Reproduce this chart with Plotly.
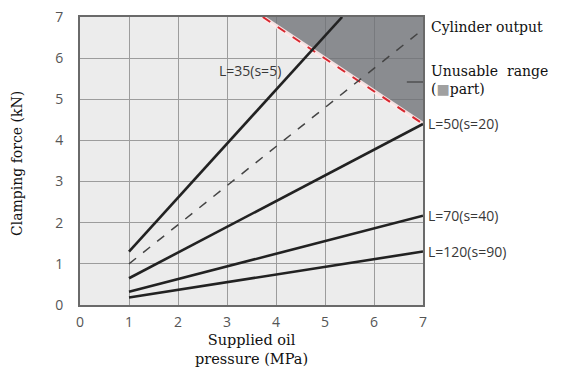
import plotly.graph_objects as go

# Data
pressure = [1, 7]                      # MPa
l35_x = [1, 5.35]
l35_y = [1.3, 7.0]
cyl_y = [1.0, 6.7]                     # cylinder output (dashed)
l50_y = [0.65, 4.4]
l70_y = [0.32, 2.17]
l120_y = [0.18, 1.30]
limit_x = [3.73, 7.0]                  # boundary of unusable range
limit_y = [7.0, 4.4]
region_x = [3.73, 7.0, 7.0, 3.73]
region_y = [7.0, 7.0, 4.4, 7.0]

x_ticks = [0, 1, 2, 3, 4, 5, 6, 7]
y_ticks = [0, 1, 2, 3, 4, 5, 6, 7]

fig = go.Figure()

# Unusable range shading
fig.add_trace(go.Scatter(x=region_x, y=region_y, fill="toself", mode="none",
                         fillcolor="rgba(110,113,118,0.78)", hoverinfo="skip"))
# Boundary line (light halo + red dashes)
fig.add_trace(go.Scatter(x=limit_x, y=limit_y, mode="lines",
                         line=dict(color="rgba(255,235,235,0.9)", width=4)))
fig.add_trace(go.Scatter(x=limit_x, y=limit_y, mode="lines",
                         line=dict(color="#d8262e", width=2, dash="dash")))
# Cylinder output dashed
fig.add_trace(go.Scatter(x=pressure, y=cyl_y, mode="lines",
                         line=dict(color="#444444", width=1.5, dash="dash")))
# Clamping force lines
for ys, xs in [(l35_y, l35_x), (l50_y, pressure), (l70_y, pressure), (l120_y, pressure)]:
    fig.add_trace(go.Scatter(x=xs, y=ys, mode="lines",
                             line=dict(color="#222222", width=2.6)))

serif = "DejaVu Serif, serif"
sans = "Open Sans, Noto Sans, sans-serif"
lab_font = dict(family=sans, size=14, color="#383838")
ser_font = dict(family=serif, size=14, color="#111111")

annotations = [
    dict(x=3.47, y=5.69, text="L=35(s=5)", showarrow=False, font=lab_font),
    dict(x=1.0, xref="paper", y=6.76, xanchor="left", xshift=6,
         text="Cylinder output", showarrow=False, font=ser_font),
    dict(x=1.0, xref="paper", y=5.68, xanchor="left", xshift=6,
         text="Unusable  range", showarrow=False, font=ser_font),
    dict(x=1.0, xref="paper", y=5.24, xanchor="left", xshift=6,
         text="(<span style='color:#a0a0a0'>■</span>part)", showarrow=False, font=ser_font),
    dict(x=1.0, xref="paper", y=l50_y[-1], xanchor="left", xshift=3,
         text="L=50(s=20)", showarrow=False, font=lab_font),
    dict(x=1.0, xref="paper", y=l70_y[-1], xanchor="left", xshift=3,
         text="L=70(s=40)", showarrow=False, font=lab_font),
    dict(x=1.0, xref="paper", y=l120_y[-1], xanchor="left", xshift=3,
         text="L=120(s=90)", showarrow=False, font=lab_font),
    dict(x=0.5, xref="paper", y=0, yref="paper", yanchor="top", yshift=-25,
         text="Supplied oil<br>pressure (MPa)", showarrow=False,
         font=dict(family=serif, size=14.5, color="#111111")),
    dict(x=0, xref="paper", xanchor="center", xshift=-63, y=0.5, yref="paper", yshift=-3,
         text="Clamping force (kN)", textangle=-90, showarrow=False, font=ser_font),
]

fig.update_layout(
    width=578, height=372,
    margin=dict(l=80, r=155, t=17, b=67),
    paper_bgcolor="white", plot_bgcolor="#ececec",
    showlegend=False,
    annotations=annotations,
)
fig.add_shape(type="line", xref="x", yref="y", x0=6.67, y0=5.42, x1=7.2, y1=5.42,
              line=dict(color="#333333", width=1))

fig.update_xaxes(range=[0, 7], tickvals=x_ticks, showgrid=True, gridcolor="#9c9c9c",
                 gridwidth=1, showline=True, mirror=True, linecolor="#6a6a6a", linewidth=2,
                 zeroline=False, ticks="", ticklabelstandoff=3, automargin=False,
                 tickfont=dict(family=sans, size=14, color="#555555"))
fig.update_yaxes(range=[0, 7], tickvals=y_ticks, showgrid=True, gridcolor="#9c9c9c",
                 gridwidth=1, showline=True, mirror=True, linecolor="#6a6a6a", linewidth=2,
                 zeroline=False, ticks="", ticklabelstandoff=12, automargin=False,
                 tickfont=dict(family=sans, size=14, color="#555555"))

fig.write_html("out.html", config={"displayModeBar": False},
               post_script="document.body.style.margin='0';")
